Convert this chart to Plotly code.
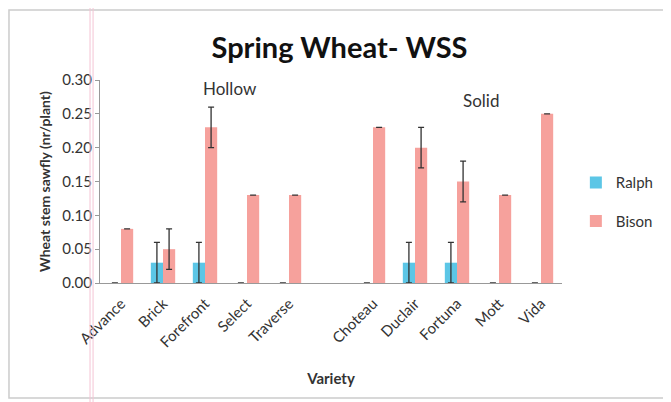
import plotly.graph_objects as go

varieties = ["Advance", "Brick", "Forefront", "Select", "Traverse", " ",
             "Choteau", "Duclair", "Fortuna", "Mott", "Vida"]
ralph = [0, 0.03, 0.03, 0, 0, None, 0, 0.03, 0.03, 0, 0]
ralph_err = [0, 0.03, 0.03, 0, 0, None, 0, 0.03, 0.03, 0, 0]
bison = [0.08, 0.05, 0.23, 0.13, 0.13, None, 0.23, 0.20, 0.15, 0.13, 0.25]
bison_err = [0, 0.03, 0.03, 0, 0, None, 0, 0.03, 0.03, 0, 0]

fnt = "Lato, 'Open Sans', sans-serif"

fig = go.Figure()
fig.add_trace(go.Bar(x=varieties, y=ralph, name="Ralph", legendgroup="r",
                     marker=dict(color="#5cc6e6", line=dict(width=0)),
                     error_y=dict(type="data", array=ralph_err, color="#333333",
                                  thickness=1.3, width=3)))
fig.add_trace(go.Bar(x=varieties, y=bison, name="Bison", legendgroup="b",
                     marker=dict(color="#f6a19c", line=dict(width=0)),
                     error_y=dict(type="data", array=bison_err, color="#333333",
                                  thickness=1.3, width=3)))

fig.add_annotation(x=2.6, y=0.288, text="Hollow", showarrow=False,
                   font=dict(size=17, color="#333333", family=fnt))
fig.add_annotation(x=8.56, y=0.269, text="Solid", showarrow=False,
                   font=dict(size=17, color="#333333", family=fnt))

# scan frame and the pink margin line
fig.add_shape(type="rect", xref="paper", yref="paper", x0=-0.197, x1=1.229,
              y0=-0.567, y1=1.345, line=dict(color="#cccccc", width=1.5))
fig.add_shape(type="line", xref="paper", yref="paper", x0=-0.0216, x1=-0.0216,
              y0=-0.6, y1=1.4, line=dict(color="#f4c4d4", width=1))
fig.add_shape(type="line", xref="paper", yref="paper", x0=-0.015, x1=-0.015,
              y0=-0.6, y1=1.4, line=dict(color="#f4c4d4", width=1))

fig.update_layout(
    width=663, height=394,
    margin=dict(l=92, r=109, t=72, b=119, autoexpand=False),
    paper_bgcolor="white", plot_bgcolor="white",
    font=dict(family=fnt, color="#333333"),
    title=dict(text="<b>Spring Wheat- WSS</b>", x=0.5, xanchor="center",
               y=0.9, yanchor="middle", font=dict(size=29, color="#111111", family=fnt)),
    barmode="group", bargap=0.42, bargroupgap=0,
    legend=dict(x=1.03, y=0.40, yanchor="middle", font=dict(size=15, family=fnt),
                bgcolor="rgba(0,0,0,0)", itemwidth=30, tracegroupgap=16),
    showlegend=True,
)
fig.update_xaxes(title=dict(text="<b>Variety</b>", font=dict(size=15), standoff=23),
                 tickangle=-45, tickfont=dict(size=15), showline=True,
                 linecolor="#999999", linewidth=1, ticks="outside", ticklen=5,
                 tickcolor="rgba(0,0,0,0)", showgrid=False)
fig.update_yaxes(title=dict(text="<b>Wheat stem sawfly (nr/plant)</b>", font=dict(size=14), standoff=8),
                 range=[0, 0.30], dtick=0.05, tickformat=".2f", tickfont=dict(size=15),
                 showline=True, linecolor="#999999", linewidth=1, ticks="outside",
                 ticklen=4, tickcolor="#999999", showgrid=False, zeroline=False)

fig.write_html("out.html")
